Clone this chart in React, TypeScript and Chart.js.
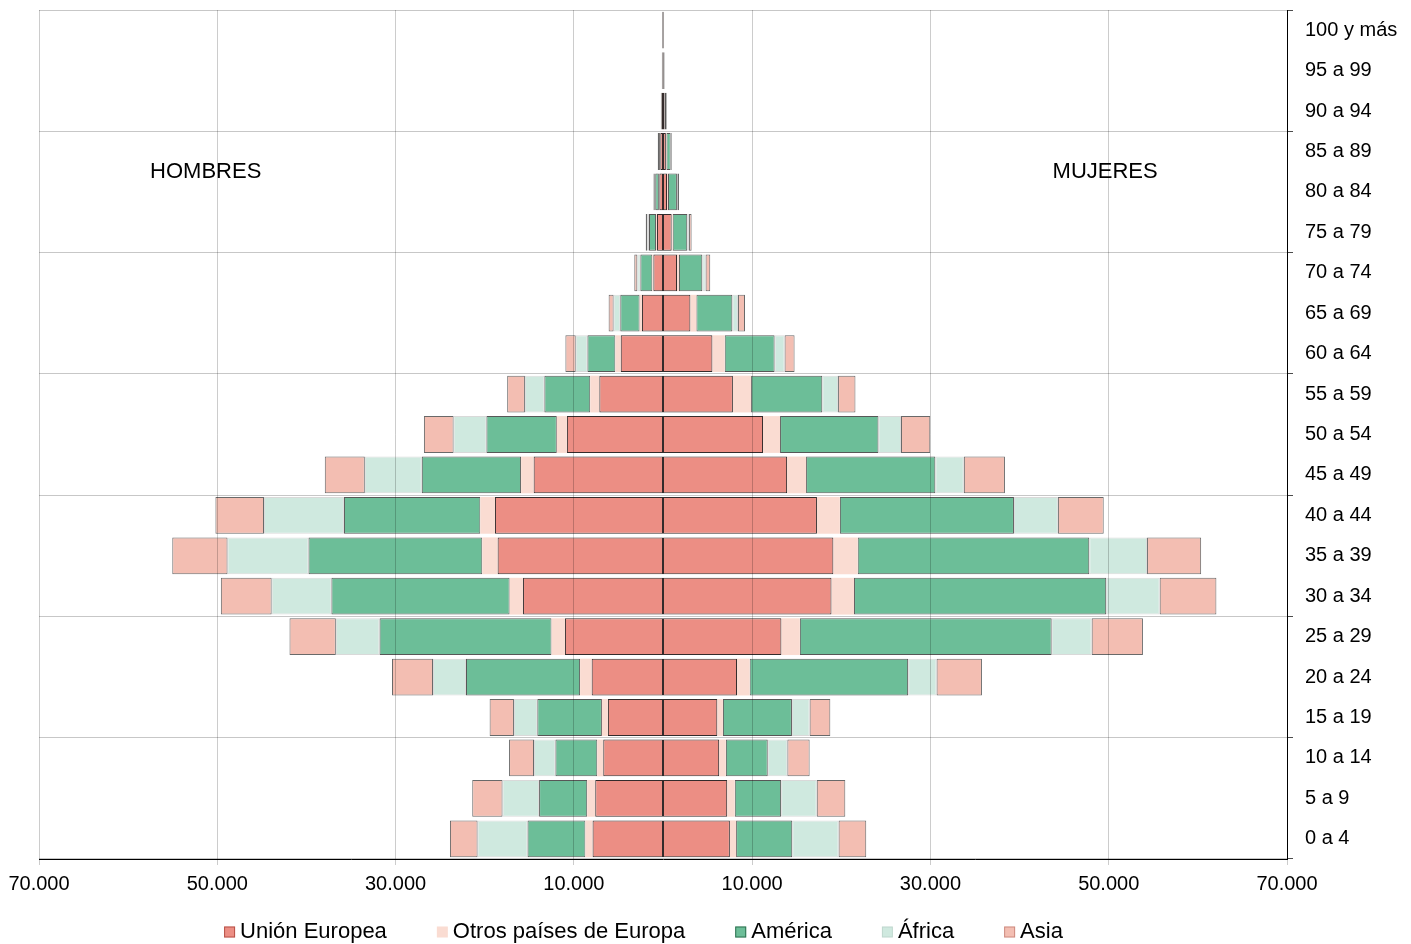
import React, { useEffect, useRef } from 'react';
import { Chart, registerables } from 'chart.js';

Chart.register(...registerables);

const ageGroups = [
  '0 a 4', '5 a 9', '10 a 14', '15 a 19', '20 a 24', '25 a 29', '30 a 34',
  '35 a 39', '40 a 44', '45 a 49', '50 a 54', '55 a 59', '60 a 64', '65 a 69',
  '70 a 74', '75 a 79', '80 a 84', '85 a 89', '90 a 94', '95 a 99', '100 y más',
];

const seriesNames = ['Unión Europea', 'Otros países de Europa', 'América', 'África', 'Asia'];

// Hombres (personas)
const menUE = [7900, 7600, 6700, 6180, 8000, 11000, 15700, 18550, 18850, 14510, 10780, 7140, 4740, 2360, 1080, 670, 410, 300, 120, 70, 70];
const menOtros = [800, 900, 670, 670, 1300, 1500, 1500, 1720, 1640, 1410, 1130, 1020, 600, 260, 110, 110, 50, 50, 20, 10, 5];
const menAmerica = [6500, 5400, 4700, 7250, 12800, 19300, 20000, 19500, 15300, 11140, 7900, 5150, 3140, 2170, 1350, 790, 410, 200, 90, 50, 30];
const menAfrica = [5600, 4100, 2400, 2620, 3700, 4900, 6700, 9080, 8970, 6390, 3680, 2180, 1310, 750, 340, 220, 50, 20, 10, 10, 3];
const menAsia = [3100, 3400, 2800, 2730, 4600, 5200, 5700, 6200, 5450, 4490, 3330, 1990, 1160, 560, 340, 150, 150, 30, 20, 10, 3];

// Mujeres (personas)
const womenUE = [7500, 7200, 6300, 6090, 8300, 13280, 18900, 19110, 17270, 13920, 11220, 7840, 5540, 3070, 1570, 970, 450, 320, 180, 80, 70];
const womenOtros = [700, 850, 750, 630, 1420, 2070, 2530, 2730, 2570, 2130, 1910, 2040, 1380, 670, 220, 110, 110, 60, 30, 10, 5];
const womenAmerica = [6300, 5200, 4700, 7740, 17780, 28250, 28290, 25980, 19530, 14500, 11040, 7990, 5600, 4040, 2620, 1640, 1000, 480, 200, 80, 40];
const womenAfrica = [5200, 4000, 2200, 1990, 3190, 4490, 6000, 6480, 4930, 3200, 2530, 1770, 1120, 630, 370, 190, 50, 60, 20, 10, 5];
const womenAsia = [3100, 3200, 2500, 2320, 5090, 5750, 6360, 6070, 5140, 4610, 3280, 1950, 1120, 790, 520, 300, 190, 80, 20, 10, 5];

const axisMin = -70000;
const axisMax = 70000;
const axisStep = 20000;

const colors = ['#EC8E84', '#FADCD2', '#6CBE98', '#CFE9DF', '#F3BEB2'];
const borderColors = ['rgba(30,20,20,0.9)', 'rgba(0,0,0,0)', 'rgba(45,45,45,0.8)', 'rgba(0,0,0,0.15)', 'rgba(55,55,55,0.75)'];
const borderWidths = [1, 0, 1, 1, 1];
const legendBorders = ['rgba(150,40,30,0.6)', 'rgba(0,0,0,0)', 'rgba(20,80,50,0.7)', 'rgba(0,0,0,0.08)', 'rgba(150,60,50,0.4)'];

const FONT = '"Liberation Sans", Arial, Helvetica, sans-serif';

function fmt(v: number): string {
  return Math.abs(Math.round(v)).toString().replace(/\B(?=(\d{3})+(?!\d))/g, '.');
}

const sideLabels = {
  id: 'sideLabels',
  afterDatasetsDraw(chart: any) {
    const { ctx, scales } = chart;
    const x = scales.x;
    const y = scales.y;
    const i1 = ageGroups.indexOf('85 a 89');
    const i2 = ageGroups.indexOf('80 a 84');
    const yy = (y.getPixelForValue(i1) + y.getPixelForValue(i2)) / 2;
    ctx.save();
    ctx.font = '22px ' + FONT;
    ctx.fillStyle = '#000';
    ctx.textAlign = 'center';
    ctx.textBaseline = 'middle';
    ctx.fillText('HOMBRES', x.getPixelForValue(-51300), yy);
    ctx.fillText('MUJERES', x.getPixelForValue(49600), yy);
    ctx.restore();
  },
};

const customLegend = {
  id: 'customLegend',
  afterDraw(chart: any) {
    const { ctx, chartArea } = chart;
    const box = 11;
    const gapText = 5;
    const gapItem = 50;
    ctx.save();
    ctx.font = '22px ' + FONT;
    const widths = seriesNames.map((n) => box + gapText + ctx.measureText(n).width);
    const total = widths.reduce((a, b) => a + b, 0) + gapItem * (seriesNames.length - 1);
    let x = chartArea.right / 2 - total / 2;
    const yc = chart.height - 12;
    ctx.textBaseline = 'middle';
    ctx.textAlign = 'left';
    seriesNames.forEach((n, i) => {
      ctx.fillStyle = colors[i];
      ctx.fillRect(x, yc - box / 2, box, box);
      ctx.strokeStyle = legendBorders[i];
      ctx.lineWidth = 1;
      ctx.strokeRect(x + 0.5, yc - box / 2 + 0.5, box - 1, box - 1);
      ctx.fillStyle = '#000';
      ctx.fillText(n, x + box + gapText, yc);
      x += widths[i] + gapItem;
    });
    ctx.restore();
  },
};

export default function App() {
  const ref = useRef<HTMLCanvasElement | null>(null);

  useEffect(() => {
    if (!ref.current) return;
    Chart.defaults.font.family = FONT;
    Chart.defaults.color = '#000';

    const men = [menUE, menOtros, menAmerica, menAfrica, menAsia];
    const women = [womenUE, womenOtros, womenAmerica, womenAfrica, womenAsia];

    const datasets: any[] = [];
    men.forEach((arr, i) => {
      datasets.push({
        label: seriesNames[i],
        data: arr.map((v) => -v),
        backgroundColor: colors[i],
        borderColor: borderColors[i],
        borderWidth: borderWidths[i],
        borderSkipped: false,
      });
    });
    women.forEach((arr, i) => {
      datasets.push({
        label: seriesNames[i],
        data: arr.slice(),
        backgroundColor: colors[i],
        borderColor: borderColors[i],
        borderWidth: borderWidths[i],
        borderSkipped: false,
      });
    });

    const gridColor = (c: any) =>
      c.index === undefined || c.index % 3 === 0 ? 'rgba(0,0,0,0.22)' : 'rgba(0,0,0,0)';
    const tickColor = (c: any) =>
      c.index === undefined || c.index % 3 === 0 ? 'rgba(0,0,0,0.7)' : 'rgba(0,0,0,0)';

    const chart = new Chart(ref.current, {
      type: 'bar',
      data: { labels: ageGroups, datasets },
      plugins: [sideLabels, customLegend],
      options: {
        indexAxis: 'y',
        responsive: false,
        animation: false,
        layout: { padding: { left: 39, right: 0, top: 10, bottom: 0 } },
        datasets: { bar: { barPercentage: 0.91, categoryPercentage: 1 } },
        plugins: {
          legend: { display: false },
          tooltip: { enabled: false },
        },
        scales: {
          x: {
            type: 'linear',
            stacked: true,
            min: axisMin,
            max: axisMax,
            ticks: {
              stepSize: axisStep,
              callback: (v: any) => fmt(Number(v)),
              font: { size: 20, family: FONT },
              color: '#000',
              padding: 7,
              maxRotation: 0,
              autoSkip: false,
            },
            grid: { color: 'rgba(0,0,0,0.2)', tickLength: 6, z: 1 },
            border: { color: '#000', width: 1, z: 2 },
            afterFit: (s: any) => { s.height = 85; },
          },
          y: {
            type: 'category',
            position: 'right',
            stacked: true,
            reverse: true,
            offset: true,
            ticks: {
              font: { size: 20, family: FONT },
              color: '#000',
              padding: 12,
              autoSkip: false,
            },
            grid: { offset: true, color: gridColor, tickColor: tickColor, tickLength: 6, z: 1 },
            border: { color: '#000', width: 1, z: 2 },
            afterFit: (s: any) => { s.width = 124; s.paddingTop = 0; s.paddingBottom = 0; },
          },
        },
      } as any,
    });

    return () => chart.destroy();
  }, []);

  return (
    <div style={{ position: 'fixed', left: 0, top: 0, width: 1411, height: 944, background: '#fff' }}>
      <canvas ref={ref} width={1411} height={944} style={{ display: 'block' }} />
    </div>
  );
}
